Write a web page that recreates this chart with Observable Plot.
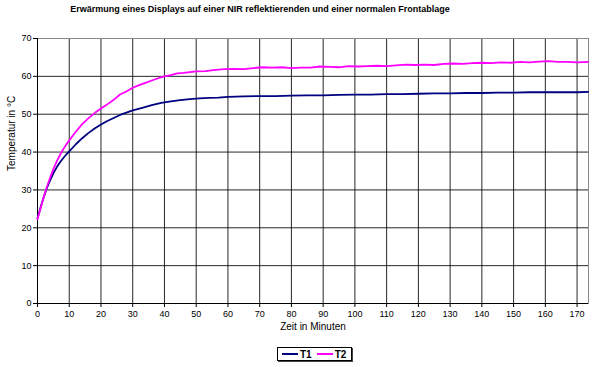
<!DOCTYPE html>
<html>
<head>
<meta charset="utf-8">
<script src="https://cdn.jsdelivr.net/npm/d3@7"></script>
<script src="https://cdn.jsdelivr.net/npm/@observablehq/plot@0.6"></script>
<style>
  html, body { margin: 0; padding: 0; background: #fff; }
  #wrap { position: relative; width: 596px; height: 367px; overflow: hidden; font-family: "Liberation Sans", Arial, sans-serif; }
  #title { position: absolute; top: 4px; left: 0; width: 520px; text-align: center; font-size: 9px; font-weight: bold; color: #000; white-space: nowrap; }
  #chart { position: absolute; top: 0; left: 0; }
  #legend { position: absolute; left: 277px; top: 347px; width: 75px; height: 14px; border: 1px solid #000; box-sizing: border-box; background: #fff; font-size: 10px; font-weight: bold; display: flex; align-items: center; box-shadow: 1px 1px 0 #444; }
  .sw { display: inline-block; width: 16px; height: 2px; margin-left: 4px; margin-right: 2px; }
</style>
</head>
<body>
<div id="wrap">
  <div id="title">Erwärmung eines Displays auf einer NIR reflektierenden und einer normalen Frontablage</div>
  <div id="chart"></div>
  <div id="legend"><span class="sw" style="background:#000080"></span>T1<span class="sw" style="background:#ff00ff;margin-left:5px"></span>T2</div>
</div>
<script>
const seriesNames = ["T1", "T2"];
const t1Time = [0,1,2,3,4,5,6,7,8,9,10,12,14,16,18,20,22,24,26,28,30,33,36,39,42,45,48,51,54,57,60,65,70,75,80,85,90,95,100,105,110,115,120,125,130,135,140,145,150,155,160,165,170,173.5];
const t1Temp = [22.5,25.5,28.2,30.6,32.6,34.4,35.9,37.2,38.3,39.3,40.2,42.0,43.6,45.0,46.2,47.3,48.2,49.0,49.8,50.4,51.0,51.7,52.4,53.0,53.4,53.7,54.0,54.2,54.3,54.4,54.6,54.7,54.8,54.8,54.9,55.0,55.0,55.1,55.2,55.2,55.3,55.3,55.4,55.5,55.5,55.6,55.6,55.7,55.7,55.8,55.8,55.8,55.8,55.9];
const t2Time = [0,1,2,3,4,5,6,7,8,9,10,12,14,16,18,20,22,24,26,28,30,32,34,36,38,40,42,44,46,48,50,53,56,59,62,65,68,71,74,77,80,83,86,89,92,95,98,101,104,107,110,113,116,119,122,125,128,131,134,137,140,143,146,149,152,155,158,161,164,167,170,173.5];
const t2Temp = [22.3,25.2,28.2,30.9,33.3,35.5,37.4,39.1,40.6,41.9,43.1,45.3,47.3,48.9,50.3,51.5,52.6,53.8,55.2,56.0,57.0,57.7,58.3,58.9,59.5,60.0,60.3,60.8,60.9,61.1,61.3,61.4,61.7,61.9,62.0,61.9,62.2,62.4,62.3,62.4,62.2,62.3,62.3,62.6,62.5,62.4,62.7,62.6,62.7,62.8,62.7,62.9,63.1,63.0,63.1,63.0,63.3,63.4,63.3,63.5,63.6,63.5,63.7,63.6,63.8,63.7,63.9,64.0,63.8,63.8,63.7,63.8];
const xTicks = d3.range(0, 171, 10);
const yTicks = d3.range(0, 71, 10);

const data = [
  ...t1Time.map((t, i) => ({ s: seriesNames[0], t, v: t1Temp[i] })),
  ...t2Time.map((t, i) => ({ s: seriesNames[1], t, v: t2Temp[i] }))
];

const chart = Plot.plot({
  width: 596,
  height: 340,
  marginTop: 38,
  marginBottom: 37,
  marginLeft: 37,
  marginRight: 8,
  style: { fontFamily: "Liberation Sans, Arial, sans-serif", fontSize: "9px", color: "#000", background: "transparent" },
  x: { domain: [0, 173.6], ticks: xTicks, label: null },
  y: { domain: [0, 70], ticks: yTicks, label: null },
  color: { domain: seriesNames, range: ["#000080", "#ff00ff"] },
  marks: [
    Plot.gridX(xTicks, { stroke: "#000", strokeOpacity: 0.85 }),
    Plot.gridY(yTicks, { stroke: "#000", strokeOpacity: 0.85 }),
    Plot.frame({ stroke: "#888" }),
    Plot.ruleX([0], { stroke: "#000" }),
    Plot.ruleY([0], { stroke: "#000" }),
    Plot.axisX(xTicks, { tickSize: 4, tickPadding: 3, fontSize: 9, stroke: "#000" }),
    Plot.axisY(yTicks, { tickSize: 4, tickPadding: 2, fontSize: 9, stroke: "#000" }),
    Plot.line(data, { x: "t", y: "v", z: "s", stroke: "s", strokeWidth: 1.8 }),
    Plot.text(["Zeit in Minuten"], { frameAnchor: "bottom", dy: 26, fontSize: 10, fill: "#000" }),
    Plot.text(["Temperatur in °C"], { frameAnchor: "left", dx: -26, rotate: -90, fontSize: 10, fill: "#000" })
  ]
});
document.getElementById("chart").appendChild(chart);
</script>
</body>
</html>
